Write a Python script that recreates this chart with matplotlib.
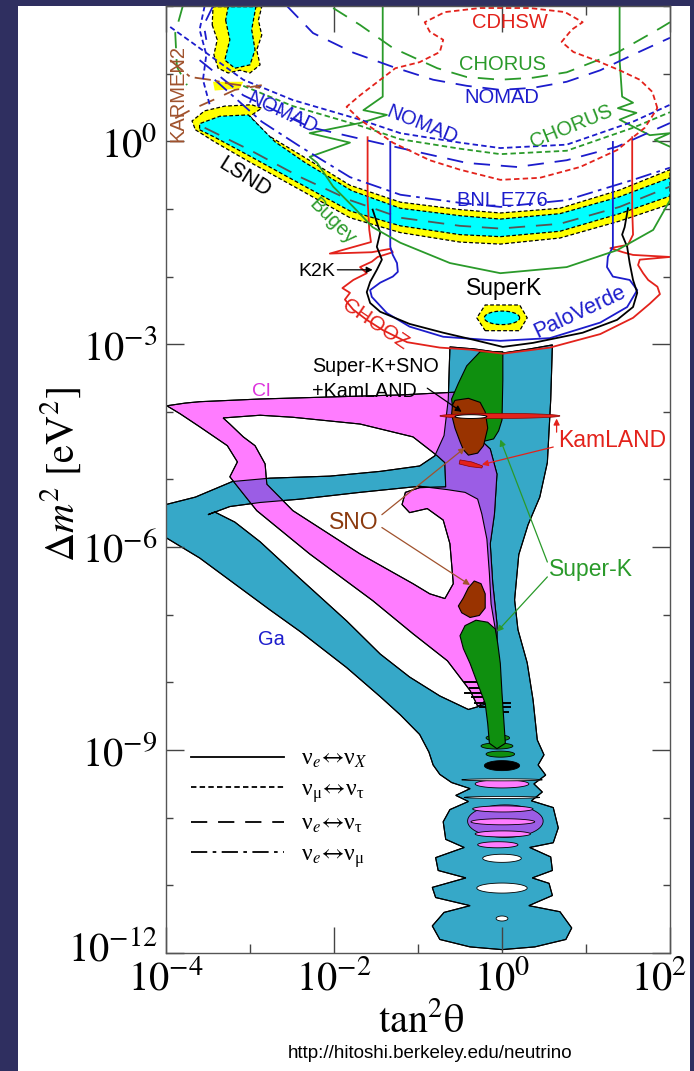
import numpy as np
import matplotlib
matplotlib.use("Agg")
import matplotlib.pyplot as plt
from matplotlib.path import Path
from matplotlib.patches import PathPatch, Rectangle
from matplotlib.lines import Line2D
from matplotlib.ticker import FixedLocator, FuncFormatter, NullFormatter
from matplotlib.transforms import ScaledTranslation

plt.rcParams["font.family"] = ["Liberation Sans", "DejaVu Sans"]
plt.rcParams["mathtext.fontset"] = "stix"

# all shapes are given as (log10 tan^2(theta), log10 dm^2) pairs

# Ga allowed region (outer boundary and the white hole between its bands)
ga_outer = [(-4.00, -5.37), (-3.65, -5.26), (-3.21, -5.03), (-2.76, -4.98), (-2.05, -4.95),
            (-1.45, -4.88), (-0.98, -4.80), (-0.80, -4.65), (-0.69, -4.35), (-0.64, -3.82),
            (-0.62, -3.04), (-0.33, -3.07), (0.01, -3.13), (0.33, -3.07), (0.60, -3.01),
            (0.58, -3.82), (0.54, -4.75), (0.45, -5.26), (0.31, -5.67), (0.20, -6.11),
            (0.15, -6.78), (0.19, -7.22), (0.30, -7.71), (0.37, -8.26), (0.42, -8.85),
            (0.50, -9.07), (0.43, -9.22), (0.52, -9.37), (0.38, -9.50), (0.48, -9.62),
            (0.35, -9.75), (0.61, -9.85), (0.67, -10.15), (0.61, -10.37), (0.33, -10.44),
            (0.58, -10.58), (0.60, -10.78), (0.36, -10.89), (0.56, -10.97), (0.60, -11.15),
            (0.32, -11.30), (0.69, -11.39), (0.83, -11.63), (0.76, -11.80), (0.39, -11.91),
            (0.00, -11.95), (-0.38, -11.91), (-0.74, -11.80), (-0.83, -11.60), (-0.69, -11.40),
            (-0.38, -11.30), (-0.79, -11.18), (-0.83, -11.03), (-0.43, -10.89), (-0.76, -10.78),
            (-0.79, -10.59), (-0.45, -10.44), (-0.67, -10.32), (-0.70, -10.06), (-0.62, -9.88),
            (-0.40, -9.76), (-0.55, -9.67), (-0.38, -9.57), (-0.60, -9.48), (-0.74, -9.36),
            (-0.82, -9.22), (-0.87, -9.03), (-0.98, -8.77), (-1.21, -8.48), (-1.45, -8.21),
            (-1.85, -7.78), (-2.40, -7.25), (-2.76, -6.93), (-3.12, -6.60), (-3.60, -6.16),
            (-4.00, -5.86)]
ga_hole = [(-3.50, -5.52), (-3.24, -5.40), (-2.88, -5.34), (-2.40, -5.29), (-1.69, -5.19),
           (-0.98, -5.10), (-0.65, -5.15), (-0.44, -5.19), (-0.29, -5.29), (-0.24, -5.51),
           (-0.18, -5.88), (-0.15, -6.39), (-0.13, -6.84), (-0.08, -7.21), (-0.06, -7.65),
           (-0.10, -8.02), (-0.17, -8.24), (-0.29, -8.36), (-0.40, -8.40), (-0.74, -8.20),
           (-1.10, -7.92), (-1.45, -7.58), (-1.85, -7.09), (-2.40, -6.47), (-2.88, -5.92),
           (-3.18, -5.63), (-3.42, -5.48)]

# Cl allowed region
cl_outer = [(-3.99, -3.91), (-3.77, -3.87), (-3.60, -3.85), (-2.88, -3.81), (-2.05, -3.78),
            (-1.21, -3.75), (-0.74, -3.72), (-0.56, -3.71), (-0.26, -4.41), (-0.14, -4.55),
            (-0.06, -4.92), (-0.09, -5.51), (-0.14, -5.95), (-0.11, -6.54), (-0.06, -7.13),
            (-0.06, -7.58), (-0.12, -8.02), (-0.19, -8.32), (-0.29, -8.35), (-0.38, -8.12),
            (-0.65, -7.68), (-1.06, -7.28), (-1.54, -6.79), (-2.29, -6.10), (-2.92, -5.46),
            (-3.24, -4.96), (-3.15, -4.74), (-3.27, -4.50), (-3.60, -4.22), (-3.83, -4.03)]
cl_hole = [(-3.32, -4.09), (-2.88, -4.05), (-2.49, -4.08), (-1.69, -4.18), (-1.06, -4.37),
           (-0.77, -4.65), (-0.68, -4.75), (-0.67, -5.11), (-0.98, -5.12), (-1.15, -5.19),
           (-1.19, -5.37), (-1.10, -5.49), (-0.89, -5.43), (-0.70, -5.60), (-0.62, -5.95),
           (-0.58, -6.54), (-0.68, -6.76), (-0.86, -6.69), (-1.06, -6.54), (-1.69, -6.10),
           (-2.49, -5.46), (-2.80, -5.07), (-2.82, -4.77), (-2.94, -4.50), (-3.08, -4.37),
           (-3.24, -4.18)]

# Super-K solar regions (green) and SNO regions (brown)
superk_upper = [(-0.26, -3.11), (0.01, -3.11), (0.01, -3.53), (0.00, -4.12), (-0.04, -4.28),
                (-0.10, -4.40), (-0.20, -4.43), (-0.38, -4.43), (-0.50, -4.28), (-0.58, -4.03),
                (-0.60, -3.81), (-0.52, -3.58), (-0.42, -3.32)]
superk_lower = [(-0.44, -7.16), (-0.50, -7.31), (-0.46, -7.50), (-0.38, -7.72), (-0.29, -8.02),
                (-0.20, -8.31), (-0.17, -8.61), (-0.15, -8.90), (-0.06, -8.98), (0.04, -8.90),
                (0.02, -8.53), (0.00, -8.16), (-0.02, -7.72), (-0.05, -7.43), (-0.08, -7.21),
                (-0.17, -7.11), (-0.31, -7.08)]
sno_upper = [(-0.56, -3.83), (-0.40, -3.80), (-0.26, -3.86), (-0.20, -4.00), (-0.17, -4.24),
             (-0.22, -4.50), (-0.29, -4.61), (-0.40, -4.64), (-0.46, -4.56), (-0.50, -4.44),
             (-0.56, -4.24), (-0.60, -4.04), (-0.59, -3.90)]
sno_lower = [(-0.33, -6.50), (-0.25, -6.54), (-0.20, -6.69), (-0.20, -6.90), (-0.27, -7.01),
             (-0.38, -7.04), (-0.48, -6.97), (-0.52, -6.87), (-0.46, -6.75), (-0.40, -6.60)]

# KamLAND: long thin island, white best-fit eye, small lower island
kam_main = (-0.025, -4.06, 0.715, 0.037)
kam_eye = (-0.37, -4.07, 0.19, 0.028)
kam_small = [(-0.50, -4.71), (-0.36, -4.74), (-0.23, -4.80), (-0.24, -4.83), (-0.38, -4.81),
             (-0.51, -4.77)]

# fine oscillation structure at small dm^2: (centre x, centre y, half width, half height)
osc_green = [(-0.05, -8.82, 0.14, 0.045), (-0.06, -8.94, 0.19, 0.045), (-0.02, -9.06, 0.17, 0.045)]
osc_black = [(0.00, -9.23, 0.21, 0.074)]
osc_purple = [(0.04, -10.05, 0.45, 0.24)]
osc_pink = [(0.00, -9.50, 0.32, 0.06), (0.01, -9.87, 0.36, 0.045), (0.01, -10.06, 0.38, 0.045),
            (0.01, -10.24, 0.33, 0.045), (-0.05, -10.40, 0.24, 0.045)]
osc_white = [(0.00, -10.60, 0.23, 0.06), (0.00, -11.04, 0.30, 0.074), (0.00, -11.49, 0.07, 0.037),
             (0.00, -9.44, 0.48, 0.015), (0.00, -9.70, 0.45, 0.015)]
jag_y = [-7.99, -8.08, -8.15, -8.22, -8.30, -8.37, -8.43]
jag_x0 = [-0.44, -0.38, -0.44, -0.36, -0.32, -0.26, -0.14]
jag_x1 = [-0.29, -0.20, -0.14, -0.24, 0.10, 0.10, 0.07]

# LSND allowed bands
lsnd_90 = [(-3.69, 0.30), (-3.54, 0.45), (-3.30, 0.52), (-2.98, 0.54), (-2.86, 0.49),
           (-3.00, 0.37), (-2.79, 0.09), (-2.40, -0.20), (-1.81, -0.65), (-1.21, -0.90),
           (-0.50, -1.01), (-0.02, -1.06), (0.69, -0.99), (1.40, -0.72), (2.00, -0.42),
           (2.00, -0.93), (1.40, -1.18), (0.69, -1.43), (-0.02, -1.52), (-0.50, -1.49),
           (-1.21, -1.35), (-1.81, -1.13), (-2.40, -0.72), (-3.00, -0.31), (-3.42, -0.01),
           (-3.65, 0.17)]
lsnd_99 = [(-3.60, 0.26), (-3.36, 0.37), (-3.02, 0.39), (-2.70, -0.01), (-2.35, -0.31),
           (-1.79, -0.73), (-1.21, -0.99), (-0.50, -1.10), (-0.02, -1.15), (0.69, -1.07),
           (1.40, -0.82), (2.00, -0.54), (2.00, -0.81), (1.40, -1.07), (0.69, -1.33),
           (-0.02, -1.41), (-0.50, -1.38), (-1.21, -1.25), (-1.81, -1.03), (-2.40, -0.63),
           (-3.00, -0.22), (-3.42, 0.06), (-3.60, 0.17)]
lsnd_top_90 = [(-3.44, 1.99), (-2.86, 1.99), (-2.90, 1.79), (-2.86, 1.57), (-2.92, 1.35),
               (-2.88, 1.13), (-3.00, 1.01), (-3.12, 1.05), (-3.26, 1.01), (-3.38, 1.08),
               (-3.43, 1.28), (-3.39, 1.50), (-3.45, 1.72)]
lsnd_top_99 = [(-3.26, 1.99), (-2.93, 1.99), (-2.98, 1.65), (-2.94, 1.35), (-3.00, 1.13),
               (-3.18, 1.08), (-3.30, 1.20), (-3.24, 1.50), (-3.29, 1.79)]
lsnd_blob = [(-3.44, 0.88), (-3.08, 0.88), (-3.12, 0.78), (-3.42, 0.75)]
lsnd_mid = [(-3.54, 0.20), (-3.00, -0.13), (-2.40, -0.53), (-1.81, -0.87), (-1.21, -1.13),
            (-0.50, -1.25), (-0.02, -1.29), (0.69, -1.22), (1.40, -0.97), (2.00, -0.67)]

# SuperK atmospheric island
superk_atm_90 = [(-0.30, -2.61), (-0.20, -2.42), (0.21, -2.42), (0.30, -2.61), (0.21, -2.80),
                 (-0.20, -2.80)]
superk_atm_99 = (0.00, -2.61, 0.21, 0.10)

# exclusion curves
chooz = [(-1.60, 0.06), (-1.60, -0.87), (-1.58, -1.31), (-1.56, -1.49), (-2.05, -1.66),
         (-1.55, -1.64), (-1.33, -1.59), (-1.30, -1.64), (-1.48, -1.71), (-1.55, -1.78),
         (-1.69, -1.86), (-1.61, -1.95), (-1.77, -2.05), (-1.90, -2.17), (-1.81, -2.24),
         (-1.87, -2.34), (-1.77, -2.49), (-1.61, -2.64), (-1.42, -2.79), (-1.13, -2.97),
         (-0.74, -3.05), (-0.38, -3.08), (0.01, -3.14), (0.57, -3.05), (1.17, -2.85),
         (1.56, -2.61), (1.76, -2.40), (1.88, -2.26), (1.85, -2.15), (1.74, -2.05),
         (1.68, -1.95), (1.62, -1.83), (1.64, -1.75), (2.00, -1.71), (1.56, -1.68),
         (1.44, -1.64), (1.29, -1.58), (1.50, -1.53), (1.56, -1.38), (1.55, -1.01), (1.55, 0.06)]
paloverde = [(-1.33, -0.01), (-1.33, -0.87), (-1.33, -1.56), (-1.30, -1.68), (-1.25, -1.80),
             (-1.24, -1.93), (-1.30, -2.00), (-1.45, -2.09), (-1.57, -2.20), (-1.55, -2.30),
             (-1.37, -2.54), (-1.10, -2.74), (-0.70, -2.89), (-0.02, -2.95), (0.57, -2.91),
             (1.17, -2.68), (1.49, -2.45), (1.61, -2.20), (1.52, -2.05), (1.32, -2.00),
             (1.25, -1.86), (1.26, -1.71), (1.32, -1.56), (1.32, -0.01)]
k2k = [(-1.54, -1.01), (-1.45, -1.35), (-1.49, -1.56), (-1.43, -1.75), (-1.49, -1.90),
       (-1.57, -2.08), (-1.61, -2.23), (-1.57, -2.39), (-1.45, -2.52), (-1.10, -2.70),
       (-0.70, -2.83), (-0.32, -2.94), (0.01, -3.04), (0.37, -2.98), (0.96, -2.83),
       (1.37, -2.64), (1.56, -2.45), (1.61, -2.24), (1.56, -2.05), (1.52, -1.80),
       (1.49, -1.56), (1.43, -1.38), (1.46, -1.27), (1.50, -0.99)]
bugey = [(-1.42, 1.99), (-1.42, 0.66), (-1.65, 0.46), (-1.37, 0.39), (-1.69, 0.27),
         (-2.29, 0.12), (-1.81, -0.02), (-2.29, -0.23), (-2.20, -0.32), (-2.01, -0.67),
         (-1.77, -0.97), (-1.54, -1.27), (-1.21, -1.50), (-0.62, -1.80), (-0.02, -1.95),
         (0.77, -1.86), (1.37, -1.61), (1.80, -1.31), (2.00, -0.87)]
bugey_right = [(1.40, 1.99), (1.40, 1.20), (1.43, 0.66), (1.56, 0.57), (1.38, 0.49),
               (1.60, 0.42), (1.40, 0.32), (1.76, 0.09), (2.00, 0.12), (1.82, 0.02), (2.00, -0.08)]
nomad_et = [(-2.56, 2.00), (-2.25, 1.60), (-1.77, 1.31), (-1.30, 1.10), (-0.82, 0.91),
            (-0.42, 0.82), (-0.02, 0.76), (0.37, 0.79), (0.77, 0.88), (1.17, 1.05),
            (1.56, 1.28), (2.00, 1.53)]
nomad_et_left = [(-3.44, 2.00), (-3.55, 1.72), (-3.52, 1.50)]
chorus_et = [(-2.01, 1.97), (-1.69, 1.72), (-1.30, 1.38), (-0.77, 1.08), (-0.42, 0.95),
             (-0.02, 0.91), (0.37, 0.94), (0.77, 1.02), (1.37, 1.31), (1.88, 1.67), (2.00, 1.76)]
chorus_et_left = [(-3.80, 2.00), (-3.89, 1.60), (-3.87, 1.10), (-3.75, 0.83)]
nomad_mt = [(-3.95, 1.69), (-3.68, 1.45), (-3.08, 0.91), (-2.49, 0.61), (-1.69, 0.32),
            (-1.21, 0.12), (-0.50, -0.02), (-0.02, -0.10), (0.77, -0.05), (1.56, 0.29), (2.00, 0.54)]
chorus_mt = [(-3.08, 0.82), (-2.49, 0.52), (-1.69, 0.23), (-1.21, 0.03), (-0.50, -0.11),
             (-0.02, -0.19), (0.77, -0.14), (1.56, 0.20), (2.00, 0.43)]
nomad_em = [(-3.60, 1.20), (-3.08, 0.68), (-2.29, 0.21), (-1.21, -0.10), (-0.42, -0.32),
            (0.18, -0.38), (0.77, -0.28), (1.37, -0.08), (2.00, 0.27)]
cdhsw = [(1.85, 0.49), (1.79, 0.73), (1.64, 0.91), (1.40, 1.05), (1.11, 1.20), (0.85, 1.32),
         (0.71, 1.47), (0.83, 1.65), (0.96, 1.76), (0.75, 1.91), (0.33, 1.97), (-0.26, 1.97),
         (-0.68, 1.91), (-0.92, 1.76), (-0.86, 1.62), (-0.70, 1.50), (-0.74, 1.32), (-0.98, 1.17),
         (-1.27, 1.08), (-1.48, 0.88), (-1.69, 0.68), (-1.85, 0.51), (-1.69, 0.32), (-1.30, -0.02),
         (-0.86, -0.28), (-0.50, -0.42), (-0.02, -0.57), (0.45, -0.54), (0.93, -0.38),
         (1.37, -0.13), (1.70, 0.20), (1.85, 0.49)]
bnl_e776 = [(-3.42, 0.91), (-2.86, 0.29), (-2.40, -0.08), (-1.81, -0.53), (-1.21, -0.79),
            (-0.50, -0.91), (-0.02, -0.97), (0.77, -0.87), (1.56, -0.57), (2.00, -0.39)]
karmen_a = [(-3.95, 1.20), (-3.71, 0.95), (-3.48, 0.91), (-3.24, 0.85), (-2.88, 0.79)]
karmen_b = [(-3.89, 0.34), (-3.71, 0.46), (-3.44, 0.61), (-3.18, 0.76), (-2.86, 0.83)]
wavy_left = [(-3.54, 2.00), (-3.60, 1.65), (-3.52, 1.28), (-3.56, 0.91), (-3.48, 0.54)]

x_major = [-4, -2, 0, 2]
x_minor = [-3, -1, 1]
y_major = [-12, -9, -6, -3, 0]
y_minor = [-11, -10, -8, -7, -5, -4, -2, -1, 1, 2]

legend_labels = ['ν$_e\\!\\leftrightarrow\\!$ν$_X$',
                 'ν$_\\mathregular{μ}\\!\\leftrightarrow\\!$ν$_\\mathregular{τ}$',
                 'ν$_e\\!\\leftrightarrow\\!$ν$_\\mathregular{τ}$',
                 'ν$_e\\!\\leftrightarrow\\!$ν$_\\mathregular{μ}$']

TEAL = '#36a8c8'
PINK = '#ff7cff'
PURPLE = '#9b5de5'
GREEN = '#0f8f0f'
BROWN = '#993300'
RED = '#e3221b'
BLUE = '#1c1ccc'
LGREEN = '#2a9a2a'
KBROWN = '#a0522d'

SOLID = '-'
SHORT = (0, (3, 1.8))
LONG = (0, (9, 6))
DASHDOT = (0, (9, 3, 2, 3))


def lin(pts):
    return 10 ** np.asarray(pts, float)


def ellipse(cx, cy, w, h, n=60):
    t = np.linspace(0, 2 * np.pi, n)
    return np.column_stack([cx + w * np.cos(t), cy + h * np.sin(t)])


def region_path(outer, holes=()):
    verts, codes = [], []
    for ring, ccw in [(outer, True)] + [(h, False) for h in holes]:
        p = np.asarray(ring, float)
        area = 0.5 * np.sum(p[:, 0] * np.roll(p[:, 1], -1) - np.roll(p[:, 0], -1) * p[:, 1])
        if (area > 0) != ccw:
            p = p[::-1]
        p = lin(p)
        verts += list(p) + [p[0]]
        codes += [Path.MOVETO] + [Path.LINETO] * (len(p) - 1) + [Path.CLOSEPOLY]
    return Path(verts, codes)


def fill(ax, outer, holes=(), fc='w', ec='k', lw=0.8, z=1.0, ls='-'):
    patch = PathPatch(region_path(outer, holes), fc=fc, ec=ec, lw=lw, zorder=z, ls=ls)
    ax.add_patch(patch)
    return patch


def curve(ax, pts, color, ls, lw=1.3, z=2.2):
    p = lin(pts)
    ax.plot(p[:, 0], p[:, 1], color=color, ls=ls, lw=lw, zorder=z, solid_joinstyle='round')


fig = plt.figure(figsize=(6.94, 10.71), dpi=100, facecolor='#2f2f60')
fig.patches.append(Rectangle((18 / 694, 0), 672 / 694, 1065 / 1071, transform=fig.transFigure,
                             fc='white', ec='none', zorder=-5))
ax = fig.add_axes([166 / 694, 1 - 953 / 1071, 504 / 694, 947 / 1071])
ax.set_xscale('log')
ax.set_yscale('log')
ax.set_xlim(1e-4, 1e2)
ax.set_ylim(1e-12, 1e2)

# solar regions
ga = fill(ax, ga_outer, [ga_hole], fc=TEAL, z=1.0)
cl = fill(ax, cl_outer, [cl_hole], fc=PINK, z=1.1)
overlap = PathPatch(region_path(cl_outer, [cl_hole]), fc=PURPLE, ec='none', zorder=1.2)
ax.add_patch(overlap)
overlap.set_clip_path(ga)
fill(ax, ga_outer, [ga_hole], fc='none', z=1.3)
fill(ax, cl_outer, [cl_hole], fc='none', z=1.3)

for cx, cy, w, h in osc_purple:
    fill(ax, ellipse(cx, cy, w, h), fc=PURPLE, lw=0.6, z=1.4)
for cx, cy, w, h in osc_pink:
    fill(ax, ellipse(cx, cy, w, h), fc=PINK, lw=0.6, z=1.45)
for cx, cy, w, h in osc_green:
    fill(ax, ellipse(cx, cy, w, h), fc=GREEN, lw=0.6, z=1.45)
for cx, cy, w, h in osc_black:
    fill(ax, ellipse(cx, cy, w, h), fc='k', lw=0.6, z=1.45)
for cx, cy, w, h in osc_white:
    fill(ax, ellipse(cx, cy, w, h), fc='white', lw=0.6, z=1.5)
for y, x0, x1 in zip(jag_y, jag_x0, jag_x1):
    ax.plot(10 ** np.array([x0, x1]), [10 ** y] * 2, color='k', lw=1.4, zorder=1.55)

fill(ax, superk_upper, fc=GREEN, z=1.6)
fill(ax, superk_lower, fc=GREEN, z=1.6)
fill(ax, sno_upper, fc=BROWN, z=1.7)
fill(ax, sno_lower, fc=BROWN, z=1.7)
fill(ax, ellipse(*kam_main), fc=RED, ec='#880000', lw=0.5, z=1.8)
fill(ax, ellipse(*kam_eye), fc='white', lw=0.7, z=1.85)
fill(ax, kam_small, fc=RED, ec='#880000', lw=0.5, z=1.8)

# LSND and SuperK atmospheric
for outer, inner in [(lsnd_90, lsnd_99), (lsnd_top_90, lsnd_top_99)]:
    fill(ax, outer, fc='#ffff00', ec='k', lw=0.9, ls=SHORT, z=1.9)
    fill(ax, inner, fc='#00ffff', ec='k', lw=0.9, ls=SHORT, z=1.95)
fill(ax, lsnd_blob, fc='#ffff00', ec='none', z=1.9)
curve(ax, lsnd_mid, '#555555', LONG, lw=1.3, z=2.0)
fill(ax, superk_atm_90, fc='#ffff00', ec='k', lw=0.9, ls=SHORT, z=1.9)
fill(ax, ellipse(*superk_atm_99), fc='#00ffff', ec='k', lw=0.9, ls=SHORT, z=1.95)

# exclusion curves
curve(ax, chooz, RED, SOLID)
curve(ax, paloverde, BLUE, SOLID)
curve(ax, k2k, 'k', SOLID)
curve(ax, bugey, LGREEN, SOLID)
curve(ax, bugey_right, LGREEN, SOLID)
curve(ax, nomad_et, BLUE, LONG)
curve(ax, nomad_et_left, BLUE, LONG)
curve(ax, chorus_et, LGREEN, LONG)
curve(ax, chorus_et_left, LGREEN, LONG)
curve(ax, nomad_mt, BLUE, SHORT)
curve(ax, chorus_mt, LGREEN, SHORT)
curve(ax, nomad_em, BLUE, LONG)
curve(ax, cdhsw, RED, SHORT)
curve(ax, bnl_e776, BLUE, DASHDOT)
curve(ax, karmen_a, KBROWN, DASHDOT)
curve(ax, karmen_b, KBROWN, LONG)
curve(ax, wavy_left, BLUE, SHORT)

# labels: text, x, y, rotation, colour, size
labels = [('CDHSW', 0.10, 1.76, 0, RED, 14.5),
          ('CHORUS', 0.00, 1.14, 0, LGREEN, 14.5),
          ('NOMAD', 0.00, 0.64, 0, BLUE, 14.5),
          ('NOMAD', -2.61, 0.42, -25, BLUE, 14.5),
          ('NOMAD', -0.95, 0.24, -22, BLUE, 14.5),
          ('CHORUS', 0.83, 0.21, 22, LGREEN, 14.5),
          ('BNL E776', 0.00, -0.88, 0, BLUE, 14.5),
          ('LSND', -3.06, -0.53, -32, 'k', 15.5),
          ('Bugey', -2.02, -1.19, -45, LGREEN, 14.5),
          ('KARMEN2', -3.86, 0.71, 90, KBROWN, 14.5),
          ('K2K', -2.21, -1.92, 0, 'k', 14),
          ('SuperK', 0.02, -2.18, 0, 'k', 16.5),
          ('CHOOZ', -1.51, -2.71, -34, RED, 15),
          ('PaloVerde', 0.93, -2.52, 25, BLUE, 15.5),
          ('Cl', -2.87, -3.70, 0, '#dd33dd', 14),
          ('KamLAND', 1.31, -4.43, 0, RED, 16.5),
          ('SNO', -1.76, -5.63, 0, '#8b3a0e', 16.5),
          ('Super-K', 1.06, -6.33, 0, LGREEN, 16.5),
          ('Ga', -2.74, -7.37, 0, BLUE, 14.5)]
for s, x, y, r, c, f in labels:
    ax.text(10 ** x, 10 ** y, s, rotation=r, color=c, fontsize=f, ha='center', va='center',
            rotation_mode='anchor', zorder=4)
for s, y in [('Super-K+SNO', -3.33), ('+KamLAND', -3.70)]:
    ax.text(10 ** -2.26, 10 ** y, s, color='k', fontsize=14.2, ha='left', va='center', zorder=4)

# leader arrows: (from x, from y, to x, to y, colour)
arrows = [(-1.96, -1.90, -1.54, -1.90, 'k'),
          (-0.89, -3.65, -0.48, -4.00, 'k'),
          (0.65, -4.30, 0.65, -4.10, RED),
          (0.61, -4.52, -0.24, -4.78, RED),
          (-1.43, -5.52, -0.44, -4.53, '#a0522d'),
          (-1.43, -5.71, -0.38, -6.56, '#a0522d'),
          (0.54, -6.22, -0.02, -4.41, LGREEN),
          (0.54, -6.44, -0.06, -7.25, LGREEN)]
for x0, y0, x1, y1, c in arrows:
    ax.annotate('', xy=(10 ** x1, 10 ** y1), xytext=(10 ** x0, 10 ** y0),
                arrowprops=dict(arrowstyle='-|>', color=c, lw=0.9, mutation_scale=9,
                                shrinkA=0, shrinkB=0), zorder=4)

# axes styling
ax.xaxis.set_major_locator(FixedLocator([10.0 ** k for k in x_major]))
ax.xaxis.set_minor_locator(FixedLocator([10.0 ** k for k in x_minor]))
ax.yaxis.set_major_locator(FixedLocator([10.0 ** k for k in y_major]))
ax.yaxis.set_minor_locator(FixedLocator([10.0 ** k for k in y_minor]))
fmt = FuncFormatter(lambda v, p: r'$10^{%d}$' % int(round(np.log10(v))))
ax.xaxis.set_major_formatter(fmt)
ax.yaxis.set_major_formatter(fmt)
ax.xaxis.set_minor_formatter(NullFormatter())
ax.yaxis.set_minor_formatter(NullFormatter())
ax.tick_params(axis='x', which='major', direction='in', length=19, width=1, top=True,
               labelsize=29, pad=5, color='#444444')
ax.tick_params(axis='x', which='minor', direction='in', length=6.5, width=1, top=True,
               color='#444444')
ax.tick_params(axis='y', which='major', direction='in', length=13, width=1, right=True,
               labelsize=29, pad=6, color='#444444')
ax.tick_params(axis='y', which='minor', direction='in', length=5, width=1, right=True,
               color='#444444')
for sp in ax.spines.values():
    sp.set_color('#555555')
    sp.set_linewidth(1.0)

# the last x label is pulled in to stay on the page, the lowest y label sits a bit higher
xt = ax.xaxis.get_major_ticks()
xt[-1].label1.set_transform(xt[-1].label1.get_transform()
                            + ScaledTranslation(-0.11, 0, fig.dpi_scale_trans))
yt = ax.yaxis.get_major_ticks()
yt[0].label1.set_transform(yt[0].label1.get_transform()
                           + ScaledTranslation(0, 0.07, fig.dpi_scale_trans))

ax.set_xlabel(r'$\mathrm{tan}^2\mathrm{\theta}$', fontsize=29)
ax.xaxis.set_label_coords(0.506, -0.052)
ax.set_ylabel(r'$\Delta m^2\ [\mathrm{eV}^2]$', fontsize=29)
ax.yaxis.set_label_coords(-0.165, 0.505)

handles = [Line2D([], [], color='k', lw=1.3, ls=s) for s in (SOLID, SHORT, LONG, DASHDOT)]
ax.legend(handles, legend_labels, loc='upper left', bbox_to_anchor=(0.05, 0.2161),
          frameon=False, prop={'family': ['Liberation Serif', 'DejaVu Serif'], 'size': 17},
          handlelength=3.94, handletextpad=0.72, labelspacing=0.37, borderpad=0,
          borderaxespad=0)

fig.text(430 / 694, 1 - 1053 / 1071, 'http://hitoshi.berkeley.edu/neutrino', fontsize=13.5,
         ha='center', va='center', color='k')

fig.savefig('out.png', dpi=100, facecolor=fig.get_facecolor())
